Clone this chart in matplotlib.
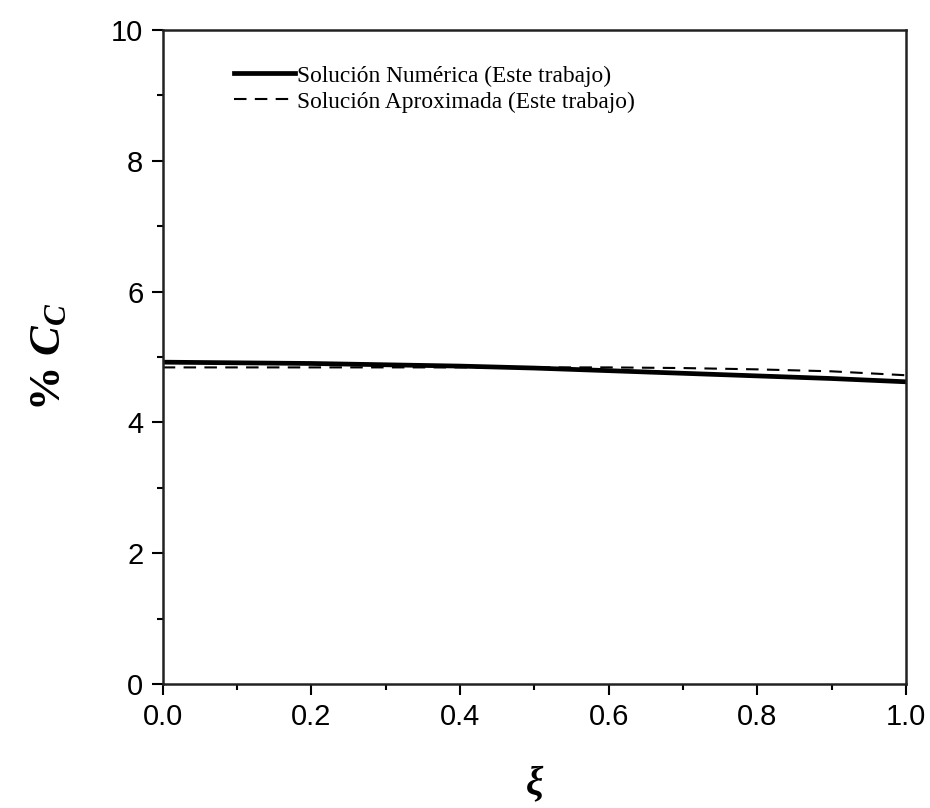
import matplotlib
matplotlib.use('Agg')
import matplotlib.pyplot as plt
from matplotlib.ticker import MultipleLocator

plt.rcParams['mathtext.fontset'] = 'custom'
plt.rcParams['mathtext.it'] = 'Liberation Serif:italic:bold'
plt.rcParams['mathtext.rm'] = 'Liberation Serif:bold'

# datos
xi = [0.0, 0.1, 0.2, 0.3, 0.4, 0.5, 0.6, 0.7, 0.8, 0.9, 1.0]
cc_numerica = [4.92, 4.91, 4.90, 4.88, 4.86, 4.83, 4.79, 4.75, 4.71, 4.67, 4.62]
cc_aproximada = [4.84, 4.84, 4.84, 4.84, 4.84, 4.84, 4.84, 4.83, 4.81, 4.78, 4.72]

etiquetas = ['Solución Numérica (Este trabajo)', 'Solución Aproximada (Este trabajo)']

fig = plt.figure(figsize=(9.3, 8.08), dpi=100)
ax = fig.add_axes([0.175, 0.1535, 0.799, 0.8095])

ax.plot(xi, cc_numerica, color='k', lw=3.4, label=etiquetas[0])
ax.plot(xi, cc_aproximada, color='k', lw=1.5, ls=(0, (6, 4)), label=etiquetas[1])

ax.set_xlim(0, 1)
ax.set_ylim(0, 10)
ax.xaxis.set_major_locator(MultipleLocator(0.2))
ax.xaxis.set_minor_locator(MultipleLocator(0.1))
ax.yaxis.set_major_locator(MultipleLocator(2))
ax.yaxis.set_minor_locator(MultipleLocator(1))
ax.tick_params(which='both', direction='out', top=False, right=False, width=1.5)
ax.tick_params(which='major', length=8, labelsize=21, pad=6)
ax.tick_params(which='minor', length=4)
for lbl in ax.get_xticklabels() + ax.get_yticklabels():
    lbl.set_family('Liberation Sans')
ax.xaxis.set_major_formatter(matplotlib.ticker.FormatStrFormatter('%.1f'))
for s in ax.spines.values():
    s.set_linewidth(1.8)
    s.set_color('#222222')

ax.set_xlabel(r'$\xi$', fontsize=28, labelpad=23)
ax.set_ylabel(r'% $C_{C}$', fontsize=32, labelpad=30,
              family='Liberation Serif', fontweight='bold')

ax.legend(loc='upper left', frameon=False, handlelength=2.6, handletextpad=0.1,
          labelspacing=0.2, bbox_to_anchor=(0.068, 0.978),
          prop={'family': 'Liberation Serif', 'size': 16.8})

fig.savefig('out.png', dpi=100)
